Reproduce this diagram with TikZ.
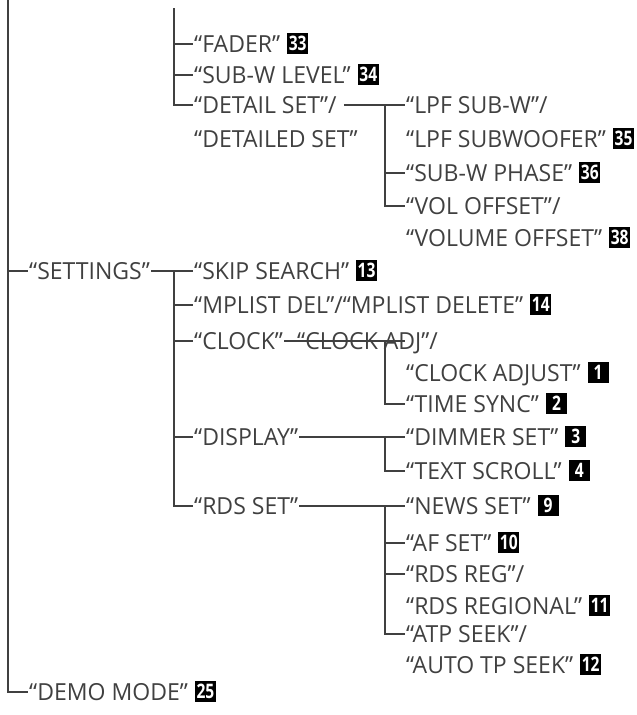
\documentclass[tikz,border=0pt]{standalone}
\usepackage{fontspec}
\setmainfont[FakeStretch=0.98]{Open Sans}
\newfontfamily\keyfont[FakeStretch=0.78]{Open Sans}
\usepackage{tikz}
\usetikzlibrary{positioning, calc}

\newcommand{\keynum}[1]{\hspace{7pt}\tikz[baseline={([yshift=-9pt]k.center)}]\node[keybox] (k) {#1};}

\begin{document}
\begin{tikzpicture}[
		x=1pt, y=-1pt,
		item/.style={anchor=west, inner xsep=1pt, inner ysep=0pt, text height=17pt, text depth=0pt, text=black!75},
		keybox/.style={fill=black, text=white, inner sep=0pt, minimum width=21pt, minimum height=21pt, font=\keyfont\bfseries\fontsize{20pt}{20pt}\selectfont},
		tree/.style={draw=black!75, line width=1.6pt},
		every node/.style={font=\fontsize{23.5pt}{28pt}\selectfont}
		]
		\useasboundingbox (0,0) rectangle (637,715);

		\coordinate (top) at (8,0);
		\coordinate (l2top) at (174,8);
		\coordinate (l3) at (385,0);

		% upper part
		\node[item] (fader) at (193,44) {“FADER”\keynum{33}};
		\node[item] (subw) at (193,75) {“SUB-W LEVEL”\keynum{34}};
		\node[item] (detail) at (193,105) {“DETAIL SET”/};
		\node[item] (detailed) at (193,139) {“DETAILED SET”};

		\node[item] (lpf) at (405,105) {“LPF SUB-W”/};
		\node[item] (lpfsub) at (405,139) {“LPF SUBWOOFER”\keynum{35}};
		\node[item] (phase) at (405,173) {“SUB-W PHASE”\keynum{36}};
		\node[item] (vol) at (405,206) {“VOL OFFSET”/};
		\node[item] (volume) at (405,238) {“VOLUME OFFSET”\keynum{38}};

		% settings
		\node[item] (settings) at (28,271) {“SETTINGS”};
		\node[item] (skip) at (193,271) {“SKIP SEARCH”\keynum{13}};
		\node[item] (mplist) at (193,305) {“MPLIST DEL”/“MPLIST DELETE”\keynum{14}};
		\node[item] (clock) at (193,341) {“CLOCK”};
		\node[item] (clockadj) at (296,341) {“CLOCK ADJ”/};
		\node[item] (clockadjust) at (405,373) {“CLOCK ADJUST”\keynum{1}};
		\node[item] (timesync) at (405,404) {“TIME SYNC”\keynum{2}};
		\node[item] (display) at (193,437) {“DISPLAY”};
		\node[item] (dimmer) at (405,437) {“DIMMER SET”\keynum{3}};
		\node[item] (scroll) at (405,471) {“TEXT SCROLL”\keynum{4}};
		\node[item] (rds) at (193,506) {“RDS SET”};
		\node[item] (news) at (405,506) {“NEWS SET”\keynum{9}};
		\node[item] (af) at (405,543) {“AF SET”\keynum{10}};
		\node[item] (rdsreg) at (405,574) {“RDS REG”/};
		\node[item] (rdsregional) at (405,606) {“RDS REGIONAL”\keynum{11}};
		\node[item] (atp) at (405,634) {“ATP SEEK”/};
		\node[item] (autotp) at (405,665) {“AUTO TP SEEK”\keynum{12}};

		\node[item] (demo) at (28,692) {“DEMO MODE”\keynum{25}};

		% main spine
		\draw[tree] (top) |- (settings.west);
		\draw[tree] (top) |- (demo.west);

		% second level
		\foreach \n in {fader, subw, detail}
			\draw[tree] (l2top) |- (\n.west);
		\draw[tree] (settings.east) -- (skip.west);
		\foreach \n in {mplist, clock, display, rds}
			\draw[tree] (skip.west -| l2top) |- (\n.west);

		% third level
		\draw[tree] ([xshift=6pt]detail.east) -- (lpf.west);
		\foreach \n in {phase, vol}
			\draw[tree] (lpf.west -| l3) |- (\n.west);

		\draw[tree] (clock.east) -- (clockadj.west -| clockadjust.west);
		\draw[tree] (clockadj.west -| l3) |- (timesync.west);

		\draw[tree] (display.east) -- (dimmer.west);
		\draw[tree] (dimmer.west -| l3) |- (scroll.west);

		\draw[tree] (rds.east) -- (news.west);
		\foreach \n in {af, rdsreg, atp}
			\draw[tree] (news.west -| l3) |- (\n.west);
	\end{tikzpicture}
\end{document}
